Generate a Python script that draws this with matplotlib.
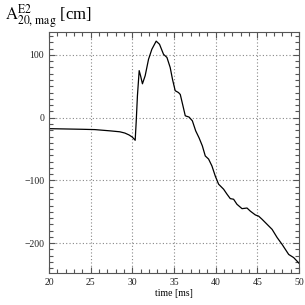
import matplotlib
matplotlib.use("Agg")
import matplotlib.pyplot as plt
from matplotlib.ticker import MultipleLocator

# values
time_ms = [20.0, 22.0, 24.0, 25.5, 27.33, 28.5, 29.1, 29.6, 30.0, 30.34,
           30.46, 30.61, 30.82, 31.0, 31.21, 31.54, 31.94, 32.34, 32.86, 33.26,
           33.74, 34.15, 34.54, 34.82, 35.14, 35.54, 35.75, 36.07, 36.35, 36.8,
           37.2, 37.6, 38.0, 38.4, 38.75, 39.15, 39.55, 39.95, 40.35, 40.95,
           41.36, 41.75, 42.15, 42.55, 43.16, 43.76, 44.16, 44.76, 45.16, 45.57,
           46.17, 46.77, 47.37, 47.97, 48.76, 49.36, 50.0]
amplitude_cm = [-17.5, -18.0, -18.5, -19.0, -21.0, -22.5, -24.5, -27.5, -31.0, -36.0,
                -7.0, 35.0, 75.0, 66.0, 54.0, 67.0, 93.0, 109.0, 122.0, 117.0,
                101.0, 96.0, 80.0, 61.0, 43.0, 40.0, 37.0, 19.0, 3.0, 1.0,
                -5.0, -21.0, -32.0, -45.0, -61.0, -66.0, -77.0, -93.0, -106.0, -114.0,
                -122.0, -129.0, -130.0, -138.0, -145.0, -144.0, -149.0, -155.0, -157.0, -162.0,
                -170.0, -178.0, -191.0, -202.0, -218.0, -223.0, -232.0]

plt.rcParams["font.family"] = ["Liberation Serif", "DejaVu Serif"]
plt.rcParams["mathtext.fontset"] = "stix"

fig = plt.figure(figsize=(3.05, 3.05), dpi=100)
ax = fig.add_axes([0.1607, 0.104, 0.8197, 0.792])

ax.plot(time_ms, amplitude_cm, color="black", linewidth=0.9)

ax.set_xlim(20, 50)
ax.set_ylim(-248, 137)
ax.xaxis.set_major_locator(MultipleLocator(5))
ax.xaxis.set_minor_locator(MultipleLocator(1))
ax.yaxis.set_major_locator(MultipleLocator(100))
ax.yaxis.set_minor_locator(MultipleLocator(10))
ax.tick_params(which="both", direction="in", top=True, right=True,
               labelsize=7, color="#555555", width=0.8, labelcolor="#222222")
ax.tick_params(which="major", length=4)
ax.tick_params(which="minor", length=3)
ax.grid(True, which="major", linestyle=(0, (1, 2)), color="#888888", linewidth=0.8)

for spine in ax.spines.values():
    spine.set_color("#555555")
    spine.set_linewidth(0.8)

ax.set_xlabel("time [ms]", fontsize=7, labelpad=1)
fig.text(0.015, 0.945, r"$\mathrm{A}^{\mathrm{E2}}_{\mathrm{20,\,mag}}$ [cm]",
         fontsize=12, ha="left", va="center")

fig.savefig("out.png", dpi=100)
